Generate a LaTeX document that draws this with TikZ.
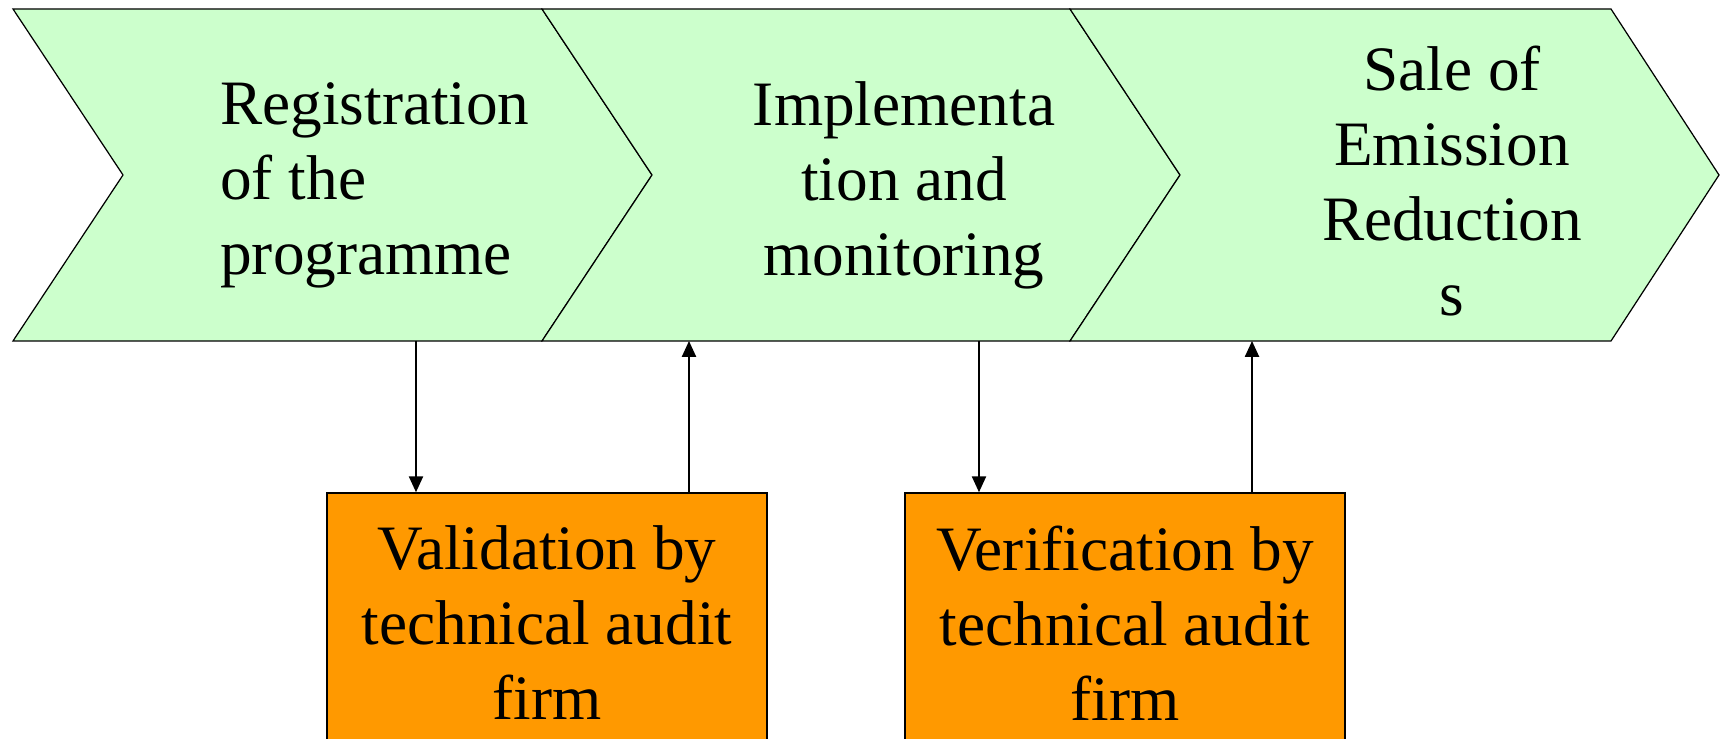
\documentclass[tikz,border=0pt]{standalone}
\usepackage{fontspec}
\setmainfont{Liberation Serif}
\usetikzlibrary{arrows.meta,calc}
\definecolor{stagegreen}{HTML}{CCFFCC}
\definecolor{auditorange}{HTML}{FF9900}
\tikzset{
  stage/.style={draw=black, fill=stagegreen, line width=0.7pt, line join=miter},
  stagetext/.style={font=\fontsize{36}{42.7}\selectfont, inner sep=0pt},
  audit/.style={rectangle, draw, line width=0.9pt, fill=auditorange, minimum width=8.8cm, minimum height=5.2cm, align=center, font=\fontsize{36}{42.7}\selectfont},
  link/.style={-{Triangle[length=9pt,width=8pt]}, line width=1pt}
}
\begin{document}
\begin{tikzpicture}[x=0.02cm, y=-0.02cm]
    \useasboundingbox (0,0) rectangle (1725,739);
    % the three stages
    \filldraw[stage] (13,9) -- (542,9) -- (652,175) -- (542,341) -- (13,341) -- (123,175) -- cycle;
    \filldraw[stage] (542,9) -- (1070,9) -- (1180,175) -- (1070,341) -- (542,341) -- (652,175) -- cycle;
    \filldraw[stage] (1070,9) -- (1611,9) -- (1719,175) -- (1611,341) -- (1070,341) -- (1180,175) -- cycle;
    \node (reg) [stagetext, anchor=west, align=left] at (220,185) {Registration\\of the\\programme};
    \node (impl) [stagetext, align=center] at (904,185) {Implementa\\tion and\\monitoring};
    \node (sale) [stagetext, align=center] at (1452,181) {Sale of\\Emission\\Reduction\\s};

    % audit firms
    \node (valid) [audit] at (547,623) {Validation by\\technical audit\\firm};
    \node (verif) [audit] at (1125,623) {Verification by\\technical audit\\firm};

    \coordinate (regout) at (416,341);
    \coordinate (implin) at (689,341);
    \coordinate (implout) at (979,341);
    \coordinate (salein) at (1252,341);

    \draw[link] (regout) -- (valid.north -| regout);
    \draw[link] (valid.north -| implin) -- (implin);
    \draw[link] (implout) -- (verif.north -| implout);
    \draw[link] (verif.north -| salein) -- (salein);
\end{tikzpicture}
\end{document}
